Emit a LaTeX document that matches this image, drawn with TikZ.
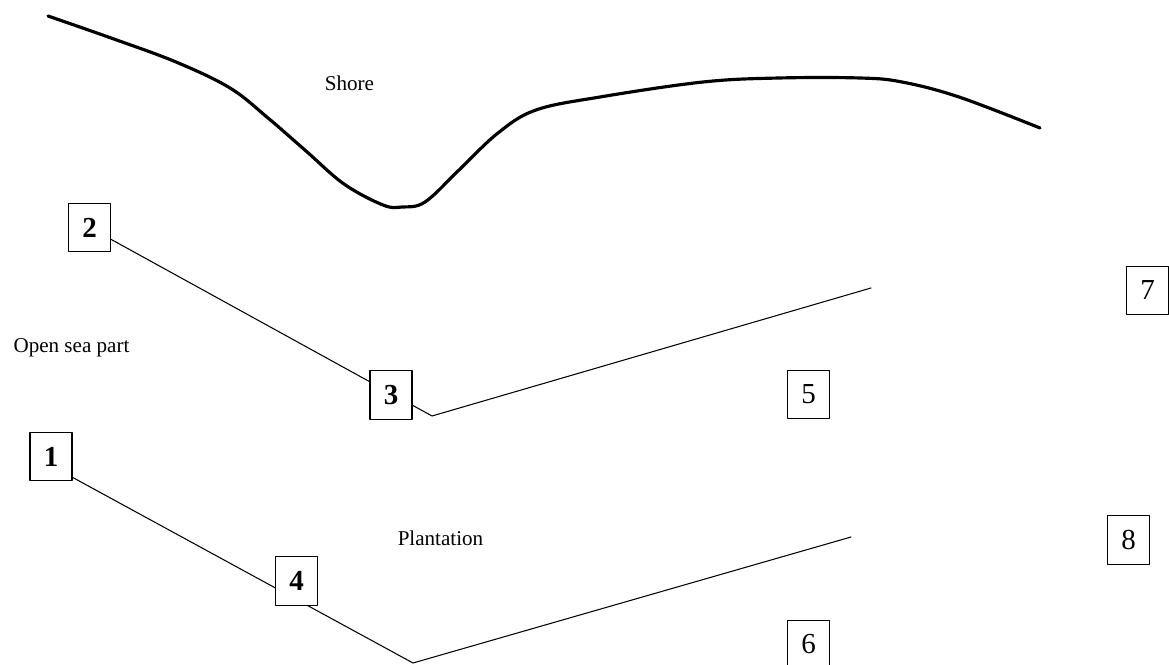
\documentclass[tikz,border=0pt]{standalone}
\usepackage{fontspec}
\setmainfont{Liberation Serif}
\usetikzlibrary{calc}
\tikzset{
  plotbox/.style={draw, line width=.8pt, fill=white, inner sep=0pt,
    minimum width=.84cm, minimum height=.97cm,
    font=\fontsize{16.5}{20}\selectfont},
  boldbox/.style={plotbox, font=\fontsize{16.5}{20}\selectfont\bfseries},
  zonelabel/.style={font=\fontsize{12}{14}\selectfont},
  transect/.style={line width=.6pt},
  shoreline/.style={line width=1.8pt}
}

\begin{document}
\begin{tikzpicture}[x=.02cm, y=-.02cm, line cap=round, line join=round]
  \useasboundingbox (0,0) rectangle (1169,665);

  % The shore line, traced through points.
  \draw[shoreline] plot[smooth, tension=.6] coordinates {
    (48,16) (111,38) (176,62) (230,88) (268,118) (306,151) (344,184)
    (383,205) (402,207) (425,202) (459,170) (498,133) (536,110)
    (600,97) (703,82) (779,78) (860,78) (902,82) (959,97) (1040,128)};

  % Zone names.
  \node[zonelabel] (shore) at (349.5,83) {Shore};
  \node[zonelabel] (sea) at (71.5,348) {Open sea part};
  \node[zonelabel] (plant) at (440.5,538) {Plantation};

  % Bends and free ends of the two transects.
  \coordinate (v3) at (432,416);
  \coordinate (e3) at (871,288);
  \coordinate (v4) at (413,663);
  \coordinate (e4) at (851,537);

  % Start plots, then the transects; plots 3 and 4 sit on top of them.
  \node[boldbox] (b2) at (89.5,227.5) {2};
  \node[boldbox] (b1) at (51,456.5) {1};
  \draw[transect] (b2) -- (v3) -- (e3);
  \draw[transect] (b1.-44) -- (v4) -- (e4);
  \node[boldbox] (b3) at (391,395) {3};
  \node[boldbox] (b4) at (296.5,581) {4};

  % Remaining plots.
  \node[plotbox] (b5) at (808.5,394.5) {5};
  \node[plotbox] (b6) at (808.5,644.5) {6};
  \node[plotbox] (b7) at (1147.5,290.5) {7};
  \node[plotbox] (b8) at (1128.5,540) {8};
\end{tikzpicture}
\end{document}
